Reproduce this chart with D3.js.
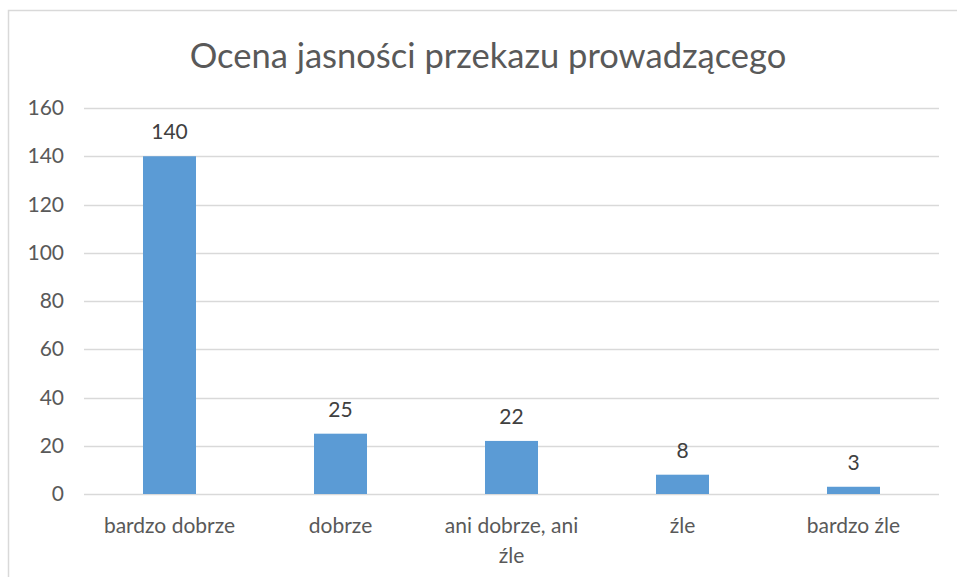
<!DOCTYPE html>
<html>
<head>
<meta charset="utf-8">
<script src="https://cdn.jsdelivr.net/npm/d3@7"></script>
<style>
  body { margin: 0; background: #fff; }
  svg { display: block; font-family: Lato, "Open Sans", sans-serif; }
</style>
</head>
<body>
<div id="chart"></div>
<script>
// Chart data
const categories = ['bardzo dobrze', 'dobrze', 'ani dobrze, ani źle', 'źle', 'bardzo źle'];
const values = [140, 25, 22, 8, 3];
const yTicks = [0, 20, 40, 60, 80, 100, 120, 140, 160];
const title = 'Ocena jasności przekazu prowadzącego';

const W = 957, H = 577;
const plot = { left: 84, right: 939, top: 108, bottom: 494 };

const svg = d3.select('#chart').append('svg')
  .attr('width', W)
  .attr('height', H);

// outer chart border (cropped at right and bottom)
svg.append('rect')
  .attr('x', 8.5).attr('y', 10.5)
  .attr('width', W + 20).attr('height', H + 20)
  .attr('fill', '#fff')
  .attr('stroke', '#d9d9d9')
  .attr('stroke-width', 1.5);

svg.append('text')
  .attr('x', 488).attr('y', 68)
  .attr('text-anchor', 'middle')
  .attr('font-size', 34.5)
  .attr('fill', '#595959')
  .text(title);

const x = d3.scaleBand()
  .domain(categories)
  .range([plot.left, plot.right])
  .paddingInner(0.69)
  .paddingOuter(0.345);

const y = d3.scaleLinear()
  .domain([0, 160])
  .range([plot.bottom, plot.top]);

// gridlines
svg.append('g')
  .selectAll('line')
  .data(yTicks)
  .enter()
  .append('line')
  .attr('x1', plot.left).attr('x2', plot.right)
  .attr('y1', d => Math.round(y(d)) + 0.5)
  .attr('y2', d => Math.round(y(d)) + 0.5)
  .style('stroke', '#d9d9d9')
  .style('stroke-width', '1.5px');

// y axis labels
const yAxis = svg.append('g')
  .attr('transform', `translate(${plot.left - 20},0)`)
  .call(d3.axisLeft(y).tickValues(yTicks).tickSize(0).tickPadding(0));
yAxis.select('.domain').remove();
yAxis.selectAll('text')
  .attr('font-family', 'Lato, "Open Sans", sans-serif')
  .attr('font-size', 21)
  .attr('fill', '#595959');

// bars
svg.append('g')
  .selectAll('rect')
  .data(values)
  .enter()
  .append('rect')
  .attr('x', (d, i) => x(categories[i]))
  .attr('width', x.bandwidth())
  .attr('y', d => y(d))
  .attr('height', d => y(0) - y(d))
  .attr('fill', '#5b9bd5');

// value labels
svg.append('g')
  .selectAll('text')
  .data(values)
  .enter()
  .append('text')
  .attr('x', (d, i) => x(categories[i]) + x.bandwidth() / 2)
  .attr('y', d => y(d) - 17)
  .attr('text-anchor', 'middle')
  .attr('font-size', 21)
  .attr('fill', '#404040')
  .text(d => d);

// category labels, wrapped when wider than the band
const step = x.step();
const catText = svg.append('g')
  .selectAll('text')
  .data(categories)
  .enter()
  .append('text')
  .attr('x', d => x(d) + x.bandwidth() / 2)
  .attr('y', 533)
  .attr('text-anchor', 'middle')
  .attr('font-size', 21)
  .attr('fill', '#595959');

catText.each(function(d) {
  const t = d3.select(this);
  const words = d.split(' ');
  let line = [];
  let tspan = t.append('tspan').attr('x', t.attr('x')).attr('dy', 0);
  words.forEach(w => {
    line.push(w);
    tspan.text(line.join(' '));
    if (tspan.node().getComputedTextLength() > step - 10 && line.length > 1) {
      line.pop();
      tspan.text(line.join(' '));
      line = [w];
      tspan = t.append('tspan').attr('x', t.attr('x')).attr('dy', 30).text(w);
    }
  });
});
</script>
</body>
</html>
